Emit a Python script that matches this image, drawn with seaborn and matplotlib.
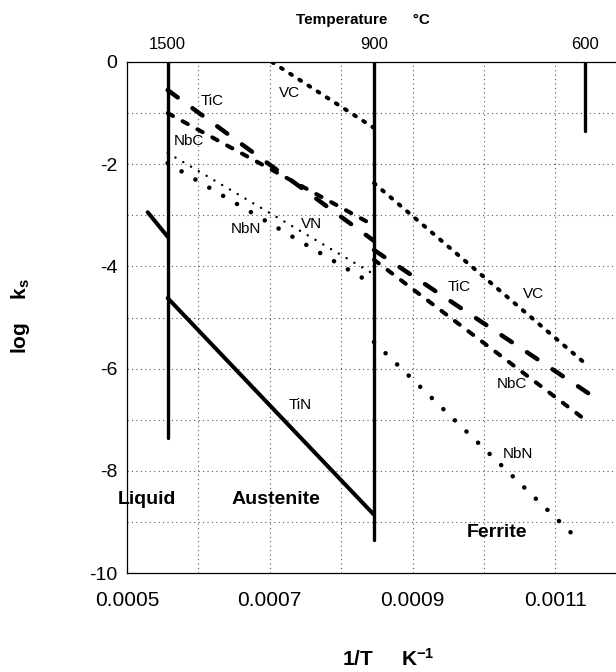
import matplotlib
matplotlib.use("Agg")
import matplotlib.pyplot as plt
import seaborn as sns

# ---------------- data ----------------
# phase boundaries: 1/T positions of 1500, 900, 600 degC
boundary_temp_labels = ["1500", "900", "600"]
boundary_x = [0.000557, 0.000846, 0.001141]
boundary_ytop = [0.0, 0.0, 0.0]
boundary_ybottom = [-7.36, -9.35, -1.35]

# TiN (solid)
tin_liq_x = [0.000529, 0.000557]
tin_liq_y = [-2.94, -3.42]
tin_aus_x = [0.000557, 0.000846]
tin_aus_y = [-4.62, -8.86]

# TiC (long dashes)
tic_aus_x = [0.000557, 0.000846]
tic_aus_y = [-0.55, -3.50]
tic_fer_x = [0.000846, 0.001146]
tic_fer_y = [-3.68, -6.48]

# NbC (short dashes)
nbc_aus_x = [0.000557, 0.000846]
nbc_aus_y = [-1.00, -3.20]
nbc_fer_x = [0.000846, 0.001137]
nbc_fer_y = [-3.87, -6.95]

# VC (dense heavy dots)
vc_aus_x = [0.000703, 0.000846]
vc_aus_y = [0.0, -1.29]
vc_fer_x = [0.000846, 0.001141]
vc_fer_y = [-2.37, -5.89]

# NbN (sparse big dots)
nbn_aus_x = [0.000557, 0.000840]
nbn_aus_y = [-1.98, -4.31]
nbn_fer_x = [0.000846, 0.001130]
nbn_fer_y = [-5.48, -9.32]

# VN (fine dots)
vn_aus_x = [0.000557, 0.000843]
vn_aus_y = [-1.78, -4.13]

x_major = [0.0005, 0.0007, 0.0009, 0.0011]
x_major_labels = ["0.0005", "0.0007", "0.0009", "0.0011"]
x_minor = [0.0006, 0.0008, 0.0010]
y_major = [0, -2, -4, -6, -8, -10]
y_major_labels = ["0", "-2", "-4", "-6", "-8", "-10"]
y_minor = [-1, -3, -5, -7, -9]

# ---------------- style ----------------
sns.set_theme(style="white")
plt.rcParams["font.family"] = ["Liberation Sans", "DejaVu Sans"]
plt.rcParams["mathtext.fontset"] = "custom"
plt.rcParams["mathtext.rm"] = "Liberation Sans"
plt.rcParams["mathtext.bf"] = "Liberation Sans:bold"
plt.rcParams["mathtext.it"] = "Liberation Sans:italic"
for key in ["text.color", "axes.labelcolor", "xtick.color", "ytick.color"]:
    plt.rcParams[key] = "black"

fig = plt.figure(figsize=(6.16, 6.72), dpi=100)
ax = fig.add_axes([127 / 616, 1 - 573 / 672, 489 / 616, 511 / 672])


def draw(x, y, lw, ls):
    sns.lineplot(x=x, y=y, ax=ax, color="black", linewidth=lw, linestyle=ls,
                 estimator=None, sort=False, legend=False,
                 solid_capstyle="round", dash_capstyle="round")


# phase boundaries
for bx, yt, yb in zip(boundary_x, boundary_ytop, boundary_ybottom):
    draw([bx, bx], [yt, yb], 2.4, "-")

# TiN
draw(tin_liq_x, tin_liq_y, 2.9, "-")
draw(tin_aus_x, tin_aus_y, 2.9, "-")

# TiC
tic_ls = (0, (2.8, 4.1))
draw(tic_aus_x, tic_aus_y, 3.2, tic_ls)
draw(tic_fer_x, tic_fer_y, 3.2, tic_ls)

# NbC
nbc_ls = (0, (1.5, 2.7))
draw(nbc_aus_x, nbc_aus_y, 2.9, nbc_ls)
draw(nbc_fer_x, nbc_fer_y, 2.9, nbc_ls)

# VC
vc_ls = (0, (0.5, 2.2))
draw(vc_aus_x, vc_aus_y, 2.9, vc_ls)
draw(vc_fer_x, vc_fer_y, 2.9, vc_ls)

# NbN
nbn_ls = (0, (0.01, 3.5))
draw(nbn_aus_x, nbn_aus_y, 3.3, nbn_ls)
draw(nbn_fer_x, nbn_fer_y, 3.3, nbn_ls)

# VN
draw(vn_aus_x, vn_aus_y, 1.8, (0, (0.01, 3.6)))

# axes
ax.set_xlim(0.0005, 0.001185)
ax.set_ylim(-10, 0)
ax.set_xticks(x_major)
ax.set_xticklabels(x_major_labels, fontsize=15)
ax.set_xticks(x_minor, minor=True)
ax.set_yticks(y_major)
ax.set_yticklabels(y_major_labels, fontsize=14)
ax.set_yticks(y_minor, minor=True)
ax.tick_params(which="both", length=0)
ax.tick_params(axis="x", pad=13)
ax.tick_params(axis="y", pad=7)
ax.grid(which="both", color="#555555", linewidth=0.8, linestyle=(0, (1, 3)))
for side in ["left", "top", "bottom"]:
    ax.spines[side].set_color("black")
    ax.spines[side].set_linewidth(0.9)
ax.spines["right"].set_visible(False)

ax.set_xlabel(r"1/T     K$^{\mathbf{-1}}$", fontsize=15, fontweight="bold")
ax.xaxis.set_label_coords((388 - 127) / 489, (573 - 648) / 511)
ax.set_ylabel(r"log    k$_{\mathbf{s}}$", fontsize=15, fontweight="bold")
ax.yaxis.set_label_coords((32 - 127) / 489, (573 - 316) / 511)

# top temperature axis
ax2 = ax.twiny()
ax2.set_xlim(ax.get_xlim())
ax2.set_xticks(boundary_x)
ax2.set_xticklabels(boundary_temp_labels, fontsize=12)
ax2.tick_params(length=0, pad=7)
ax2.grid(False)
for s in ax2.spines.values():
    s.set_visible(False)
ax2.set_xlabel("Temperature      °C", fontsize=11, fontweight="bold")
ax2.xaxis.set_label_coords((363 - 127) / 489, (573 - 24) / 511)

# curve labels
lab = dict(fontsize=11, ha="center", va="center", color="black")
ax.text(0.000619, -0.76, "TiC", **lab)
ax.text(0.000587, -1.55, "NbC", **lab)
ax.text(0.000727, -0.61, "VC", **lab)
ax.text(0.000667, -3.27, "NbN", **lab)
ax.text(0.000758, -3.17, "VN", **lab)
ax.text(0.000965, -4.40, "TiC", **lab)
ax.text(0.001069, -4.54, "VC", **lab)
ax.text(0.001039, -6.30, "NbC", **lab)
ax.text(0.001048, -7.67, "NbN", **lab)
ax.text(0.000742, -6.71, "TiN", **lab)

# phase labels
ph = dict(fontsize=14, fontweight="bold", ha="center", va="center", color="black")
ax.text(0.000528, -8.57, "Liquid", **ph)
ax.text(0.000709, -8.57, "Austenite", **ph)
ax.text(0.001018, -9.20, "Ferrite", **ph)

fig.savefig("out.png", dpi=100, facecolor="white")
